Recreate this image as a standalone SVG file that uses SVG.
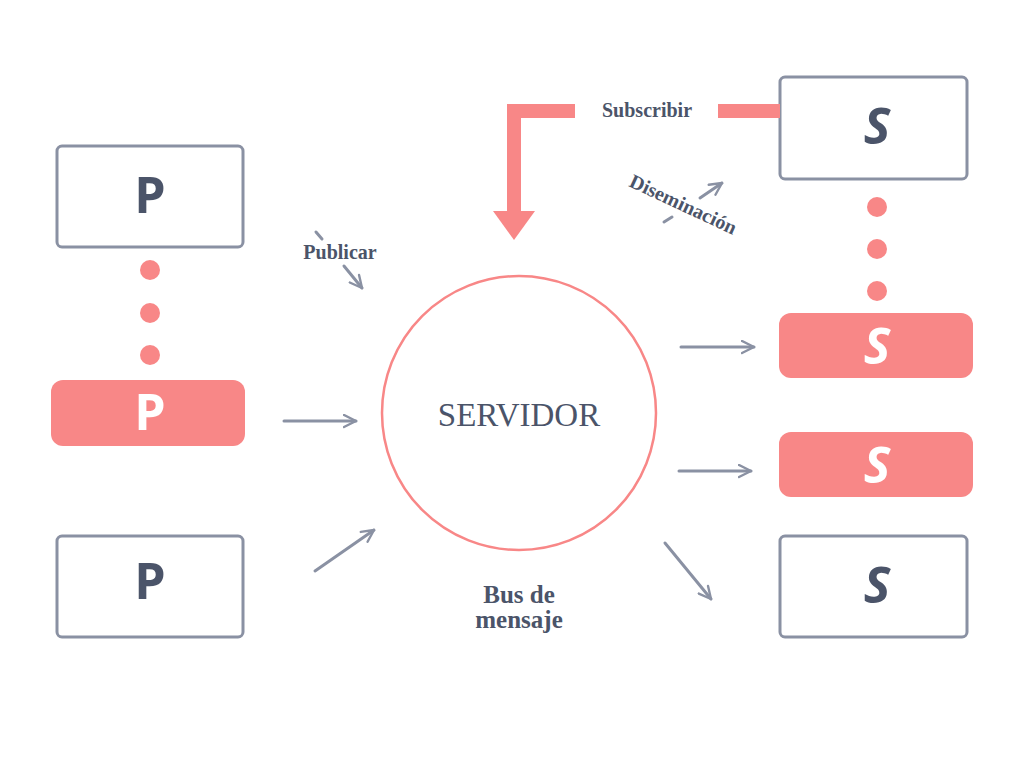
<svg xmlns="http://www.w3.org/2000/svg" width="1024" height="768" viewBox="0 0 1024 768">
<defs>
<style>
.box{fill:#fff;stroke:#8a91a3;stroke-width:3}
.fbox{fill:#f88787}
.dot{fill:#f88787}
.lt{font-family:"Open Sans","DejaVu Sans",sans-serif;font-weight:700;font-size:50px;text-anchor:middle}
.it{font-style:italic}
.dk{fill:#4b5469}
.wh{fill:#fff}
.lbl{font-family:"Liberation Serif","DejaVu Serif",serif;font-weight:700;font-size:20px;fill:#4b5469;text-anchor:middle}
.big{font-size:25px}
.arr{stroke:#8a91a3;stroke-width:3;fill:none;stroke-linecap:round;marker-end:url(#ah)}
.seg{stroke:#8a91a3;stroke-width:3;fill:none;stroke-linecap:round}
</style>
<marker id="ah" viewBox="0 0 10 10" refX="9" refY="5" markerWidth="5" markerHeight="5" markerUnits="strokeWidth" orient="auto">
<path d="M1,1 L9,5 L1,9" fill="none" stroke="#8a91a3" stroke-width="1.6" stroke-linecap="round" stroke-linejoin="round"/>
</marker>
</defs>
<rect width="1024" height="768" fill="#fff"/>

<g id="p1"><rect class="box" x="57" y="146" width="186" height="101" rx="5"/><text class="lt dk" x="150" y="213">P</text></g>
<g id="p-dots"><circle class="dot" cx="150" cy="270" r="10"/><circle class="dot" cx="150" cy="313" r="10"/><circle class="dot" cx="150" cy="355" r="10"/></g>
<g id="p2"><rect class="fbox" x="51" y="380" width="194" height="66" rx="12"/><text class="lt wh" x="150" y="430">P</text></g>
<g id="p3"><rect class="box" x="57" y="536" width="186" height="101" rx="5"/><text class="lt dk" x="150" y="599">P</text></g>

<g id="servidor"><circle cx="519" cy="413" r="137" fill="none" stroke="#f88787" stroke-width="2.5"/>
<text x="519" y="426" font-family="Liberation Serif,DejaVu Serif,serif" font-size="33" fill="#4b5469" text-anchor="middle">SERVIDOR</text></g>
<g id="bus-label"><text class="lbl big" x="519" y="603">Bus de</text><text class="lbl big" x="519" y="628">mensaje</text></g>

<g id="s1"><rect class="box" x="780" y="77" width="187" height="102" rx="5"/><text class="lt dk it" x="877" y="144">S</text></g>
<g id="s-dots"><circle class="dot" cx="877" cy="207" r="10"/><circle class="dot" cx="877" cy="249" r="10"/><circle class="dot" cx="877" cy="291" r="10"/></g>
<g id="s2"><rect class="fbox" x="779" y="313" width="194" height="65" rx="12"/><text class="lt wh it" x="877" y="364">S</text></g>
<g id="s3"><rect class="fbox" x="779" y="432" width="194" height="65" rx="12"/><text class="lt wh it" x="877" y="483">S</text></g>
<g id="s4"><rect class="box" x="780" y="536" width="187" height="101" rx="5"/><text class="lt dk it" x="877" y="603">S</text></g>

<g id="connectors">
<path class="arr" d="M284,421 L356,421"/>
<path class="arr" d="M315,571 L374,530"/>
<line class="seg" x1="316" y1="232" x2="322" y2="239"/>
<path class="arr" d="M344,266 L362,288"/>
<path class="arr" d="M681,347 L754,347"/>
<path class="arr" d="M679,471 L751,471"/>
<path class="arr" d="M665,543 L711,599"/>
<line class="seg" x1="664" y1="222" x2="672" y2="217"/>
<path class="arr" d="M700,198 L722,183"/>
<path d="M575,111 L514,111 L514,212" fill="none" stroke="#f88787" stroke-width="14"/>
<polygon points="493,211 535,211 514,240" fill="#f88787"/>
<line x1="718" y1="111" x2="780" y2="111" stroke="#f88787" stroke-width="14"/>
</g>
<g id="labels">
<text class="lbl" x="340" y="259">Publicar</text>
<text class="lbl" x="647" y="117">Subscribir</text>
<text class="lbl" x="683" y="211" transform="rotate(25 683 205)">Diseminación</text>
</g>
</svg>
